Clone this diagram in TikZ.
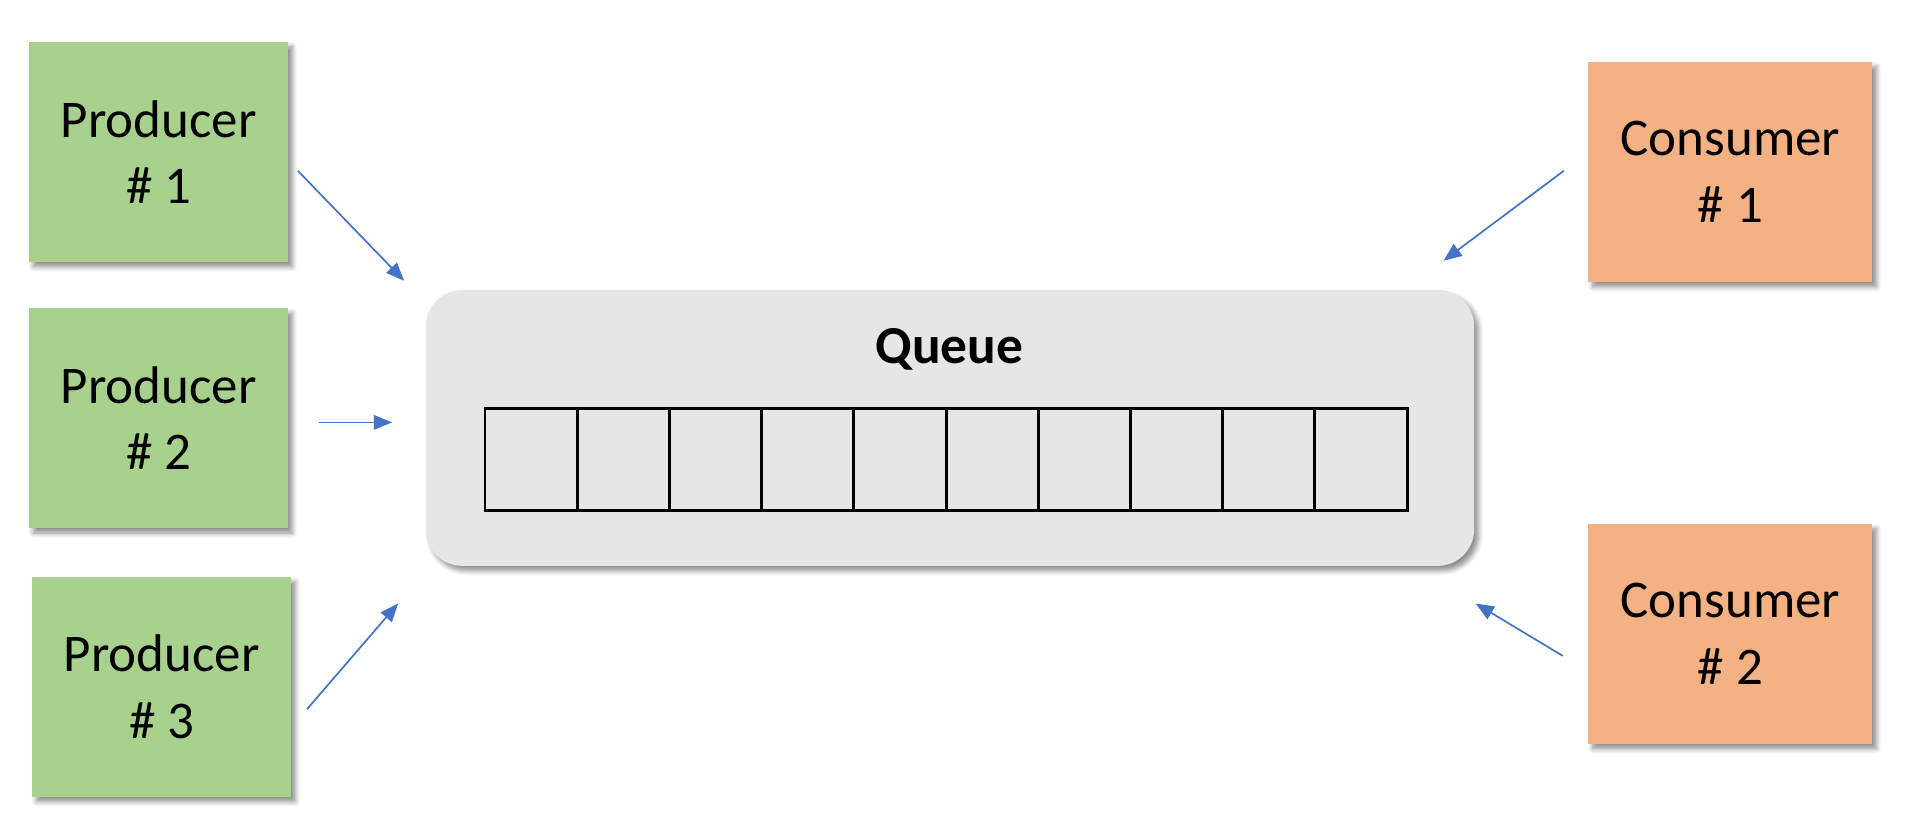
\documentclass[tikz,border=0pt]{standalone}
\usepackage{fontspec}
\setmainfont{Carlito}
\usetikzlibrary{arrows.meta,shadows.blur}
\definecolor{prodgreen}{HTML}{A9D18E}
\definecolor{consorange}{HTML}{F4B183}
\definecolor{queuegray}{HTML}{E7E6E6}
\definecolor{arrowblue}{HTML}{4472C4}
\tikzset{
  softshadow/.style={blur shadow={shadow xshift=0.07cm, shadow yshift=-0.08cm, shadow blur steps=6, shadow blur radius=0.08cm, shadow opacity=45}},
  box/.style={rectangle, draw=none, align=center, minimum width=4.26cm, minimum height=3.62cm, font=\fontsize{24.8}{31.2}\selectfont, softshadow},
  producer/.style={box, fill=prodgreen},
  consumer/.style={box, fill=consorange, minimum width=4.67cm},
  slot/.style={rectangle, draw=black, line width=0.048cm, minimum width=1.517cm, minimum height=1.68cm, inner sep=0pt},
  flow/.style={-{Triangle[length=0.3cm,width=0.24cm]}, draw=arrowblue, line width=0.028cm},
}
\begin{document}
\begin{tikzpicture}
        \useasboundingbox (0,0) rectangle (31.36,-13.69);

        \node[producer] (producer-1) at(2.61,-2.50){Producer\\\# 1};
        \node[producer] (producer-2) at(2.61,-6.88){Producer\\\# 2};
        \node[producer] (producer-3) at(2.66,-11.30){Producer\\\# 3};

        \node[consumer] (consumer-1) at(28.47,-2.83){Consumer\\\# 1};
        \node[consumer] (consumer-2) at(28.47,-10.43){Consumer\\\# 2};

        \node[rectangle, rounded corners=0.6cm, fill=queuegray, minimum width=17.25cm, minimum height=4.54cm, softshadow] (queue) at(15.63,-7.04){};
        \node[anchor=base, font=\fontsize{25}{30}\selectfont\bfseries] (queue-label) at(15.62,-5.98){Queue};

        \foreach \i in {0,...,9}
          \node[slot] (slot-\i) at(8.7386+\i*1.5172,-7.56){};

        \coordinate (producer-1-out) at(4.90,-2.81);
        \coordinate (producer-1-in) at(6.65,-4.62);
        \coordinate (producer-2-out) at(5.25,-6.95);
        \coordinate (producer-2-in) at(6.45,-6.95);
        \coordinate (producer-3-out) at(5.05,-11.67);
        \coordinate (producer-3-in) at(6.55,-9.93);
        \coordinate (consumer-1-out) at(25.73,-2.81);
        \coordinate (consumer-1-in) at(23.75,-4.29);
        \coordinate (consumer-2-out) at(25.71,-10.79);
        \coordinate (consumer-2-in) at(24.28,-9.93);

        \draw [flow] (producer-1-out) -- (producer-1-in);
        \draw [flow] (producer-2-out) -- (producer-2-in);
        \draw [flow] (producer-3-out) -- (producer-3-in);

        \draw [flow] (consumer-1-out) -- (consumer-1-in);
        \draw [flow] (consumer-2-out) -- (consumer-2-in);

      \end{tikzpicture}
\end{document}
